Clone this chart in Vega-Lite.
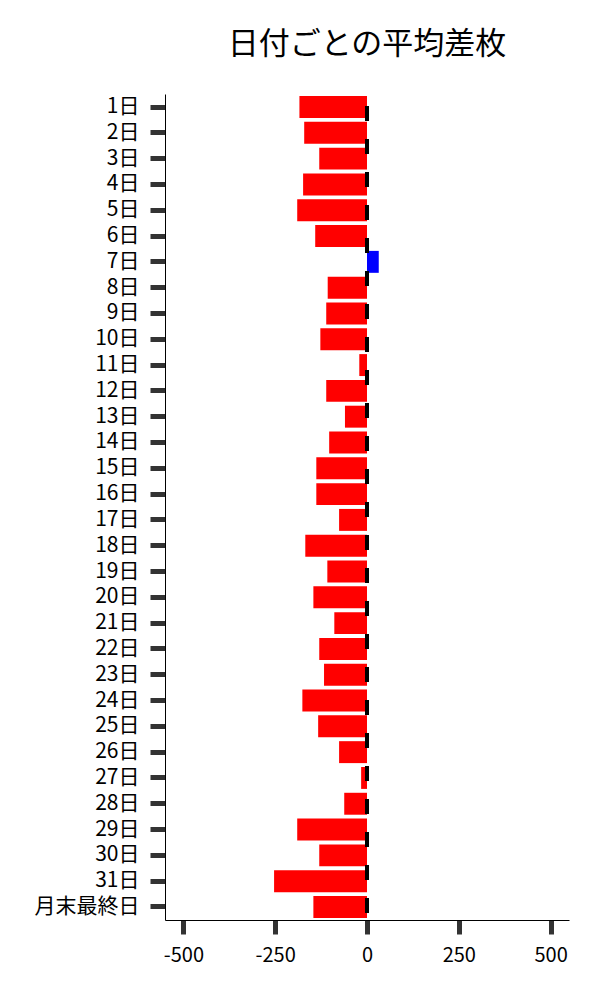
{
  "$schema": "https://vega.github.io/schema/vega-lite/v6.json",
  "autosize": {"type": "none"},
  "padding": {"left": 165, "top": 94, "right": 31, "bottom": 80},
  "width": 404,
  "height": 826,
  "background": "white",
  "title": {
    "text": "日付ごとの平均差枚",
    "font": "Noto Sans CJK JP",
    "fontSize": 31,
    "fontWeight": "normal",
    "color": "black",
    "anchor": "middle",
    "offset": 32
  },
  "data": {
    "values": [
      {"日付": "1日", "平均差枚": -184},
      {"日付": "2日", "平均差枚": -171},
      {"日付": "3日", "平均差枚": -130},
      {"日付": "4日", "平均差枚": -174},
      {"日付": "5日", "平均差枚": -190},
      {"日付": "6日", "平均差枚": -141},
      {"日付": "7日", "平均差枚": 32},
      {"日付": "8日", "平均差枚": -107},
      {"日付": "9日", "平均差枚": -111},
      {"日付": "10日", "平均差枚": -127},
      {"日付": "11日", "平均差枚": -21},
      {"日付": "12日", "平均差枚": -111},
      {"日付": "13日", "平均差枚": -60},
      {"日付": "14日", "平均差枚": -103},
      {"日付": "15日", "平均差枚": -138},
      {"日付": "16日", "平均差枚": -138},
      {"日付": "17日", "平均差枚": -76},
      {"日付": "18日", "平均差枚": -168},
      {"日付": "19日", "平均差枚": -108},
      {"日付": "20日", "平均差枚": -146},
      {"日付": "21日", "平均差枚": -89},
      {"日付": "22日", "平均差枚": -130},
      {"日付": "23日", "平均差枚": -117},
      {"日付": "24日", "平均差枚": -176},
      {"日付": "25日", "平均差枚": -133},
      {"日付": "26日", "平均差枚": -76},
      {"日付": "27日", "平均差枚": -16},
      {"日付": "28日", "平均差枚": -62},
      {"日付": "29日", "平均差枚": -190},
      {"日付": "30日", "平均差枚": -130},
      {"日付": "31日", "平均差枚": -253},
      {"日付": "月末最終日", "平均差枚": -146}
    ]
  },
  "layer": [
    {
      "mark": {"type": "bar"},
      "encoding": {
        "y": {
          "field": "日付",
          "type": "nominal",
          "sort": null,
          "scale": {"paddingInner": 0.15, "paddingOuter": 0.08},
          "axis": {
            "title": null,
            "labelFontSize": 21,
            "labelPadding": 11,
            "tickSize": 15,
            "tickWidth": 5,
            "tickColor": "#333333",
            "domainColor": "black",
            "domainWidth": 1
          }
        },
        "x": {
          "field": "平均差枚",
          "type": "quantitative",
          "scale": {"domain": [-550, 550], "nice": false, "zero": false},
          "axis": {
            "title": null,
            "values": [-500, -250, 0, 250, 500],
            "labelExpr": "replace(datum.label, '−', '-')",
            "labelFontSize": 20,
            "labelPadding": 11,
            "tickSize": 14,
            "tickWidth": 5,
            "tickColor": "#333333",
            "domainColor": "black",
            "domainWidth": 1,
            "grid": false
          }
        },
        "color": {
          "condition": {"test": "datum['平均差枚'] < 0", "value": "#ff0000"},
          "value": "#0000ff"
        }
      }
    },
    {
      "mark": {
        "type": "rule",
        "color": "black",
        "strokeWidth": 2.5,
        "strokeDash": [15, 18],
        "strokeDashOffset": 21
      },
      "encoding": {
        "x": {"datum": 0, "type": "quantitative"}
      }
    }
  ],
  "config": {
    "font": "Noto Sans CJK JP",
    "view": {"stroke": null},
    "axis": {"labelColor": "black", "grid": false}
  }
}
